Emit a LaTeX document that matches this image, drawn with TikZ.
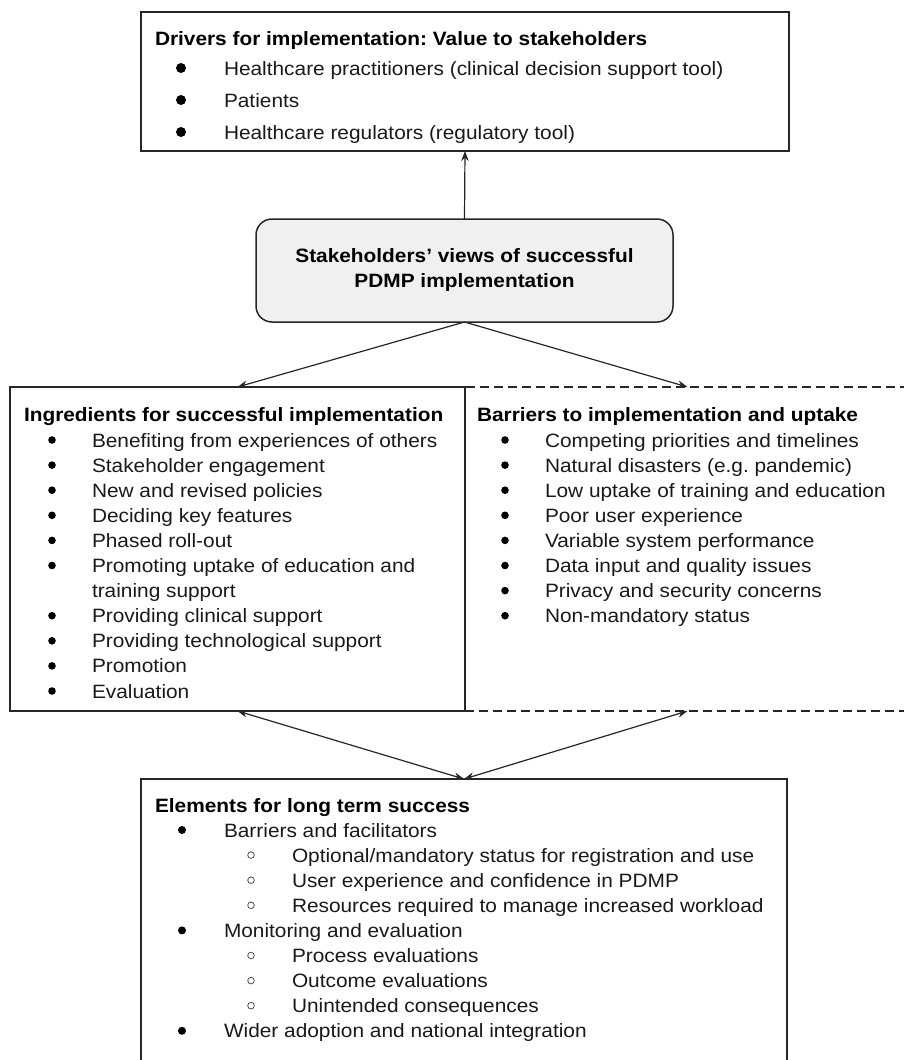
\documentclass[tikz,border=0pt]{standalone}
\usepackage{fontspec}
\setmainfont{Liberation Sans}[FakeStretch=1.08]
\frenchspacing
\usetikzlibrary{arrows.meta}
\begin{document}
\begin{tikzpicture}[x=1pt,y=-1pt,
  every node/.style={inner sep=0pt, outer sep=0pt},
  frame/.style={draw=black!85, line width=1.5pt},
  rframe/.style={frame, dash pattern=on 9pt off 5pt},
  link/.style={draw=black!85, line width=1.2pt, -{Stealth[length=10pt,width=7.5pt]}},
  dlink/.style={draw=black!85, line width=1.2pt, {Stealth[length=10pt,width=7.5pt]}-{Stealth[length=10pt,width=7.5pt]}},
  ln/.style={anchor=base west, font=\fontsize{19.3}{25}\selectfont, text=black!90},
  hd/.style={anchor=base west, font=\fontsize{19.3}{25}\selectfont\bfseries},
]
\useasboundingbox (0,0) rectangle (903,1060);

% boxes
\node[frame, minimum width=648pt, minimum height=139pt] (drivers) at (465,81.5) {};
\node[frame, fill=gray!12, rounded corners=16pt, minimum width=417pt, minimum height=103pt,
      align=center, font=\fontsize{19.3}{25}\selectfont\bfseries] (views) at (464.5,270.5)
      {Stakeholders’ views of successful\\PDMP implementation};
\node[rframe, minimum width=445pt, minimum height=324pt] (barriers) at (687.5,549) {};
\node[frame, minimum width=455pt, minimum height=324pt] (ingred) at (237.5,549) {};
\node[frame, minimum width=646pt, minimum height=300pt] (elements) at (464,929) {};

% connectors
\draw[link] (views.north) -- (drivers.south);
\draw[link] (views.south) -- (ingred.north);
\draw[link] (views.south) -- (barriers.north);
\draw[dlink] (ingred.south) -- (elements.north);
\draw[dlink] (barriers.south) -- (elements.north);

% drivers text
\node[hd] (dtitle) at (155,45) {Drivers for implementation: Value to stakeholders};
\node[ln] (d1) at (224,75) {Healthcare practitioners (clinical decision support tool)};
\node[ln] (d2) at (224,107) {Patients};
\node[ln] (d3) at (224,139) {Healthcare regulators (regulatory tool)};
\foreach \y in {75,107,139} \fill (181,{\y-7}) circle (5pt);

% ingredients text
\node[hd] (ititle) at (24,421) {Ingredients for successful implementation};
\node[ln] (i0) at (92,447) {Benefiting from experiences of others};
\node[ln] (i1) at (92,472.1) {Stakeholder engagement};
\node[ln] (i2) at (92,497.2) {New and revised policies};
\node[ln] (i3) at (92,522.3) {Deciding key features};
\node[ln] (i4) at (92,547.4) {Phased roll-out};
\node[ln] (i5) at (92,572.5) {Promoting uptake of education and};
\node[ln] (i6) at (92,597.6) {training support};
\node[ln] (i7) at (92,622.7) {Providing clinical support};
\node[ln] (i8) at (92,647.8) {Providing technological support};
\node[ln] (i9) at (92,672.9) {Promotion};
\node[ln] (i10) at (92,698) {Evaluation};
\foreach \k in {0,1,2,3,4,5,7,8,9,10} \fill (52,{447+25.1*\k-7}) circle (3.8pt);

% barriers text
\node[hd] (btitle) at (477,421) {Barriers to implementation and uptake};
\node[ln] (b0) at (545,447) {Competing priorities and timelines};
\node[ln] (b1) at (545,472.1) {Natural disasters (e.g. pandemic)};
\node[ln] (b2) at (545,497.2) {Low uptake of training and education};
\node[ln] (b3) at (545,522.3) {Poor user experience};
\node[ln] (b4) at (545,547.4) {Variable system performance};
\node[ln] (b5) at (545,572.5) {Data input and quality issues};
\node[ln] (b6) at (545,597.6) {Privacy and security concerns};
\node[ln] (b7) at (545,622.7) {Non-mandatory status};
\foreach \k in {0,...,7} \fill (505,{447+25.1*\k-7}) circle (3.8pt);

% elements text
\node[hd] (etitle) at (155,812) {Elements for long term success};
\node[ln] (e0) at (224,837) {Barriers and facilitators};
\node[ln] (e1) at (292,862.1) {Optional/mandatory status for registration and use};
\node[ln] (e2) at (292,887.2) {User experience and confidence in PDMP};
\node[ln] (e3) at (292,912.3) {Resources required to manage increased workload};
\node[ln] (e4) at (224,937.4) {Monitoring and evaluation};
\node[ln] (e5) at (292,962.5) {Process evaluations};
\node[ln] (e6) at (292,987.6) {Outcome evaluations};
\node[ln] (e7) at (292,1012.7) {Unintended consequences};
\node[ln] (e8) at (224,1037.8) {Wider adoption and national integration};
\foreach \k in {0,4,8} \fill (182,{837+25.1*\k-7}) circle (4pt);
\foreach \k in {1,2,3,5,6,7} \draw[line width=0.8pt, black!70] (251,{837+25.1*\k-7}) circle (3.3pt);
\end{tikzpicture}
\end{document}
